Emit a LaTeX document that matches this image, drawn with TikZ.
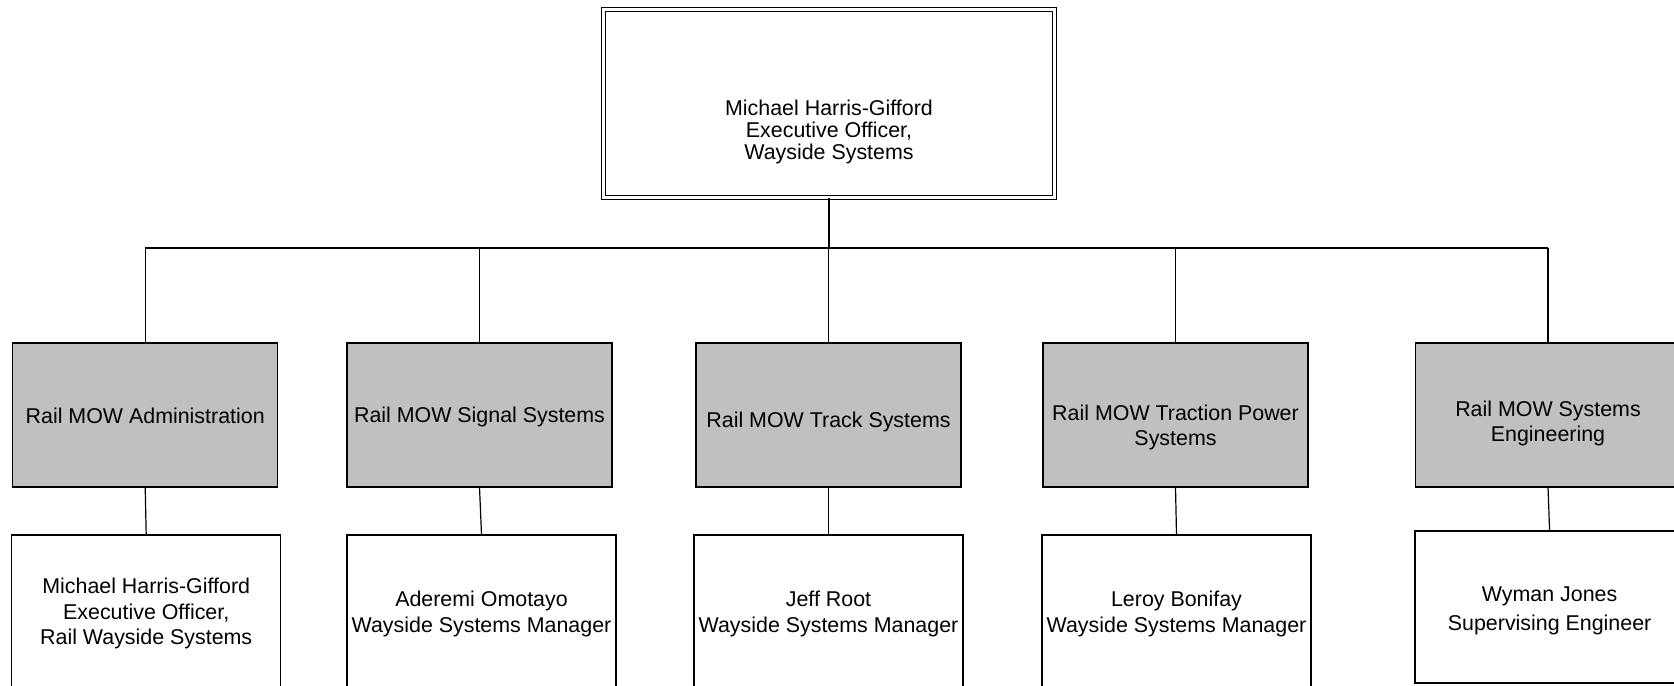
\documentclass[tikz,border=0pt]{standalone}
\usepackage{fontspec}
\setmainfont{Liberation Sans}
\newcommand{\lowered}[2]{\raisebox{-#1}[\height][\depth]{\begin{tabular}{@{}c@{}}#2\end{tabular}}}
\begin{document}
\begin{tikzpicture}[x=0.5pt,y=-0.5pt,
  every node/.style={inner sep=0pt, outer sep=0pt, align=center, text=black},
  txt/.style={font=\fontsize{10.7}{12.8}\selectfont},
  topbox/.style={draw, line width=0.6pt, double, double distance=1.1pt,
     minimum width=225.5pt, minimum height=94pt, font=\fontsize{10.7}{10.7}\selectfont},
  deptbox/.style={draw, line width=0.7pt, fill=deptgrey, minimum width=132.5pt, minimum height=72pt, txt},
  personbox/.style={draw, line width=0.7pt, fill=white, minimum width=134.5pt, minimum height=76pt, txt},
  link/.style={draw, line width=0.6pt}
]
\definecolor{deptgrey}{HTML}{C0C0C0}
\useasboundingbox (0,0) rectangle (1674,685);
\clip (0,0) rectangle (1674,685);
\fill[white] (0,0) rectangle (1674,685);

\node[topbox] (top) at (829,103.5) {\lowered{14.9pt}{Michael Harris-Gifford\\Executive Officer,\\Wayside Systems}};

\node[deptbox] (g1) at (145.2,415) {\lowered{1.5pt}{Rail MOW Administration}};
\node[deptbox] (g2) at (479.5,415) {\lowered{1pt}{Rail MOW Signal Systems}};
\node[deptbox] (g3) at (828.5,415) {\lowered{3.7pt}{Rail MOW Track Systems}};
\node[deptbox] (g4) at (1175.5,415) {\lowered{6.4pt}{Rail MOW Traction Power\\Systems}};
\node[deptbox] (g5) at (1548,415) {\lowered{4.5pt}{Rail MOW Systems\\Engineering}};

\node[personbox] (p1) at (146.2,611) {\lowered{1.6pt}{Michael Harris-Gifford\\Executive Officer,\\Rail Wayside Systems}};
\node[personbox] (p2) at (481.5,611) {\lowered{1.6pt}{Aderemi Omotayo\\Wayside Systems Manager}};
\node[personbox] (p3) at (828.5,611) {\lowered{1.6pt}{Jeff Root\\Wayside Systems Manager}};
\node[personbox] (p4) at (1176.5,611) {\lowered{1.6pt}{Leroy Bonifay\\Wayside Systems Manager}};
\node[personbox, font=\fontsize{10.7}{14.4}\selectfont] (p5) at (1549.6,607) {\lowered{1.6pt}{Wyman Jones\\Supervising Engineer}};

\coordinate (bus) at (829,248);
\draw[link] (top.south) -- (top.south |- bus);
\draw[link] (g1.north |- bus) -- (g5.north |- bus);
\foreach \g in {g1,g2,g3,g4,g5}{
  \draw[link] (\g.north |- bus) -- (\g.north);
}
\draw[link] (g1.south) -- (p1.north);
\draw[link] (g2.south) -- (p2.north);
\draw[link] (g3.south) -- (p3.north);
\draw[link] (g4.south) -- (p4.north);
\draw[link] (g5.south) -- (p5.north);
\end{tikzpicture}
\end{document}
